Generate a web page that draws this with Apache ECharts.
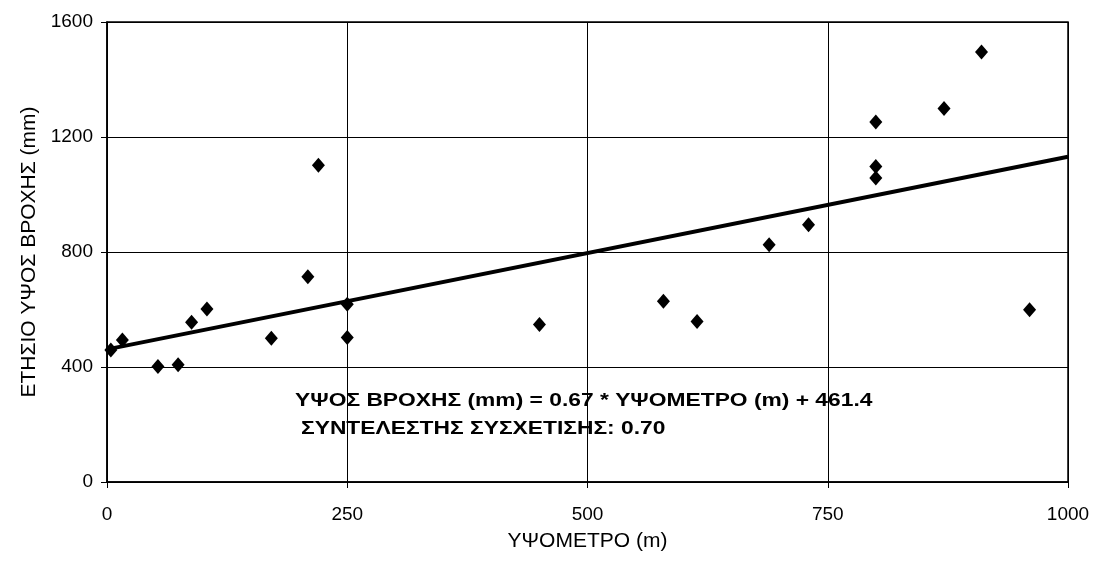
<!DOCTYPE html>
<html><head><meta charset="utf-8">
<script src="https://cdn.jsdelivr.net/npm/echarts@6/dist/echarts.min.js"></script>
<style>html,body{margin:0;padding:0;background:#fff}#c{width:1093px;height:569px}</style>
</head><body><div id="c"></div>
<script>
const altitude = [4,16,53,74,88,104,171,209,220,250,250,450,579,614,689,730,800,800,800,871,910,960];
const rainfall = [459,494,402,408,556,602,500,714,1102,618,503,548,629,558,825,895,1252,1097,1057,1299,1496,599];
const slope = 0.67, intercept = 461.4;
const fitX = [0, 1000];
const xTickLabels = ['0','250','500','750','1000'];
const yTickLabels = ['0','400','800','1200','1600'];
const eqText = 'ΥΨΟΣ ΒΡΟΧΗΣ (mm) = 0.67 * ΥΨΟΜΕΤΡΟ (m) + 461.4';
const corrText = 'ΣΥΝΤΕΛΕΣΤΗΣ ΣΥΣΧΕΤΙΣΗΣ: 0.70';

const F = 'Liberation Sans, Arial, sans-serif';
const chart = echarts.init(document.getElementById('c'));
chart.setOption({
  animation:false,
  backgroundColor:'#fff',
  grid:{left:107,right:25,top:22,bottom:87,show:true,borderColor:'#000',borderWidth:1.5},
  xAxis:{type:'value',min:0,max:1000,interval:250,
    name:'ΥΨΟΜΕΤΡΟ (m)',nameLocation:'middle',nameGap:49,
    nameTextStyle:{fontFamily:F,fontSize:21,color:'#000'},
    axisLine:{lineStyle:{color:'#000',width:1.5}},
    axisTick:{show:true,length:6,lineStyle:{color:'#000'}},
    axisLabel:{fontFamily:F,fontSize:19,color:'#000',margin:23,
      formatter:(v,i)=>xTickLabels[i]},
    splitLine:{show:true,lineStyle:{color:'#000',width:1}}},
  yAxis:{type:'value',min:0,max:1600,interval:400,
    name:'ΕΤΗΣΙΟ ΥΨΟΣ ΒΡΟΧΗΣ (mm)',nameLocation:'middle',nameGap:67,
    nameTextStyle:{fontFamily:F,fontSize:21,color:'#000'},
    axisLine:{show:true,lineStyle:{color:'#000',width:1.5}},
    axisTick:{show:true,length:6,lineStyle:{color:'#000'}},
    axisLabel:{fontFamily:F,fontSize:19,color:'#000',margin:14,
      formatter:(v,i)=>yTickLabels[i]},
    splitLine:{show:true,lineStyle:{color:'#000',width:1}}},
  series:[
    {type:'line',data:fitX.map(x=>[x,slope*x+intercept]),symbol:'none',
     lineStyle:{color:'#000',width:4},z:2},
    {type:'scatter',data:altitude.map((x,i)=>[x,rainfall[i]]),symbol:'diamond',symbolSize:[13,15],
     itemStyle:{color:'#000',opacity:1},z:3}
  ],
  graphic:[
    {type:'text',x:295,y:401,scaleX:1.2,z:10,style:{text:eqText,font:'bold 19px '+F,fill:'#000',verticalAlign:'middle',textVerticalAlign:'middle'}},
    {type:'text',x:301,y:429,scaleX:1.2,z:10,style:{text:corrText,font:'bold 19px '+F,fill:'#000',verticalAlign:'middle',textVerticalAlign:'middle'}}
  ]
});
</script></body></html>
